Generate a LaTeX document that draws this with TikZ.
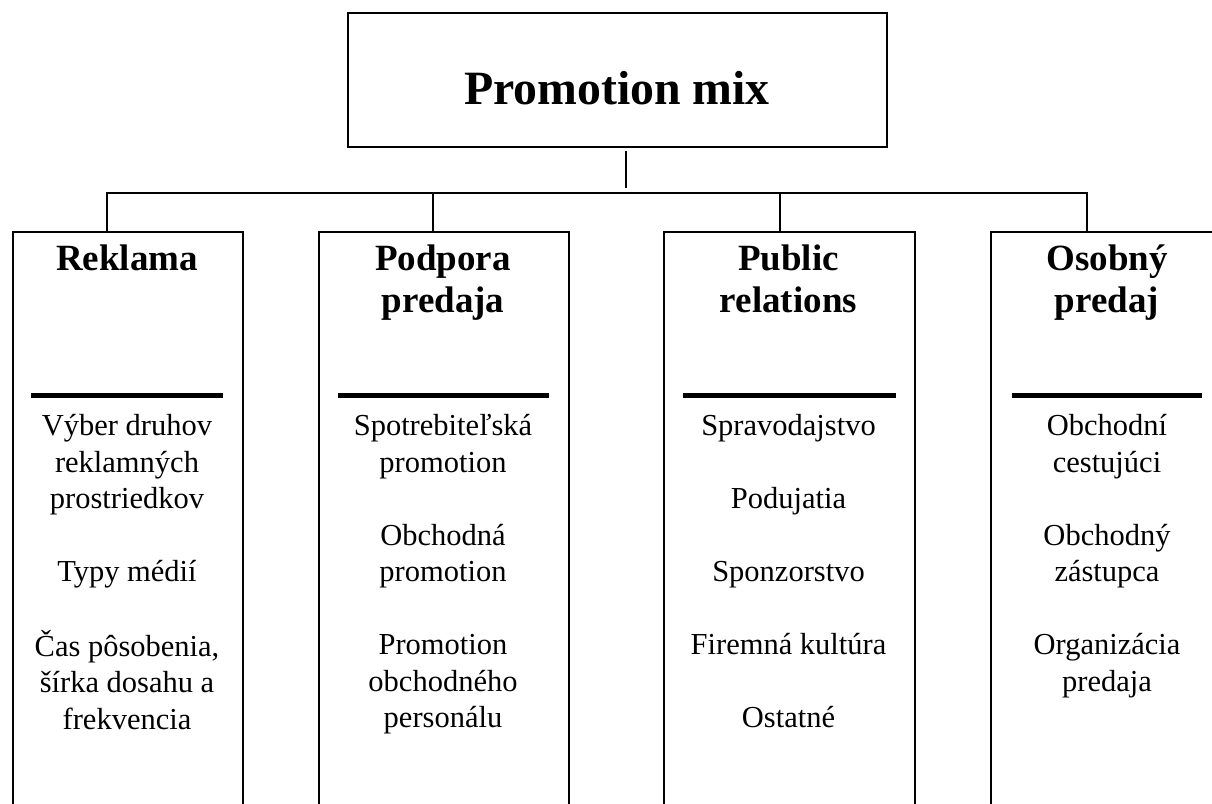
\documentclass[tikz,border=0pt]{standalone}
\usepackage{fontspec}
\setmainfont{Liberation Serif}
\begin{document}
\begin{tikzpicture}[x=1pt,y=-1pt,
  line width=1.6pt,
  colbox/.style={draw, line width=1.6pt, minimum width=#1, minimum height=650pt, anchor=north west, inner sep=0pt},
  conn/.style={draw, line width=1.6pt},
  rulebar/.style={line width=5pt},
  head/.style={anchor=north, inner sep=0pt, align=center, font=\fontsize{37}{42}\selectfont\bfseries},
  body/.style={anchor=north, inner sep=0pt, align=center, font=\fontsize{30.5}{36.5}\selectfont}]
\fill[white] (0,0) rectangle (1212,803);
\clip (0,0) rectangle (1212,803);
% top box
\node[draw, line width=1.6pt, minimum width=539pt, minimum height=134pt, inner sep=0pt] (top) at (617.5,80) {};
\node[font=\fontsize{47.8}{56}\selectfont\bfseries, anchor=base, inner sep=0pt] (title) at (617,104) {Promotion mix};
% columns
\node[colbox=230pt] (c1) at (12,231) {};
\node[colbox=250pt] (c2) at (318,231) {};
\node[colbox=251pt] (c3) at (663,231) {};
\node[colbox=234pt] (c4) at (990,231) {};
% connector points
\coordinate (hub) at (626,193);
\coordinate (d1) at (107,193);
\coordinate (d2) at (433,193);
\coordinate (d3) at (780,193);
\coordinate (d4) at (1087,193);
\draw[conn] ([yshift=-3pt]top.south -| hub) -- ([yshift=5pt]hub);
\draw[conn] (d1 |- c1.north) -- (d1) -- (d4) -- (d4 |- c4.north);
\draw[conn] (d2) -- (d2 |- c2.north);
\draw[conn] (d3) -- (d3 |- c3.north);
% headers
\node[head] (h1) at (127,240.6) {\strut Reklama};
\node[head] (h2) at (443,240.6) {\strut Podpora\\predaja};
\node[head] (h3) at (788.5,240.6) {\strut Public\\relations};
\node[head] (h4) at (1107,240.6) {\strut Osobný\\predaj};
% thick rules
\draw[rulebar] (31,395) -- (223,395);
\draw[rulebar] (338,395) -- (549,395);
\draw[rulebar] (683,395) -- (896,395);
\draw[rulebar] (1012,395) -- (1202,395);
% body texts
\node[body] (t1) at (127,409.45) {\strut Výber druhov\\reklamných\\prostriedkov\\\strut\\Typy médií\\\strut\\Čas pôsobenia,\\šírka dosahu a\\frekvencia};
\node[body] (t2) at (443,409.45) {\strut Spotrebiteľská\\promotion\\\strut\\Obchodná\\promotion\\\strut\\Promotion\\obchodného\\personálu};
\node[body] (t3) at (788.5,409.45) {\strut Spravodajstvo\\\strut\\Podujatia\\\strut\\Sponzorstvo\\\strut\\Firemná kultúra\\\strut\\Ostatné};
\node[body] (t4) at (1107,409.45) {\strut Obchodní\\cestujúci\\\strut\\Obchodný\\zástupca\\\strut\\Organizácia\\predaja};
\end{tikzpicture}
\end{document}
